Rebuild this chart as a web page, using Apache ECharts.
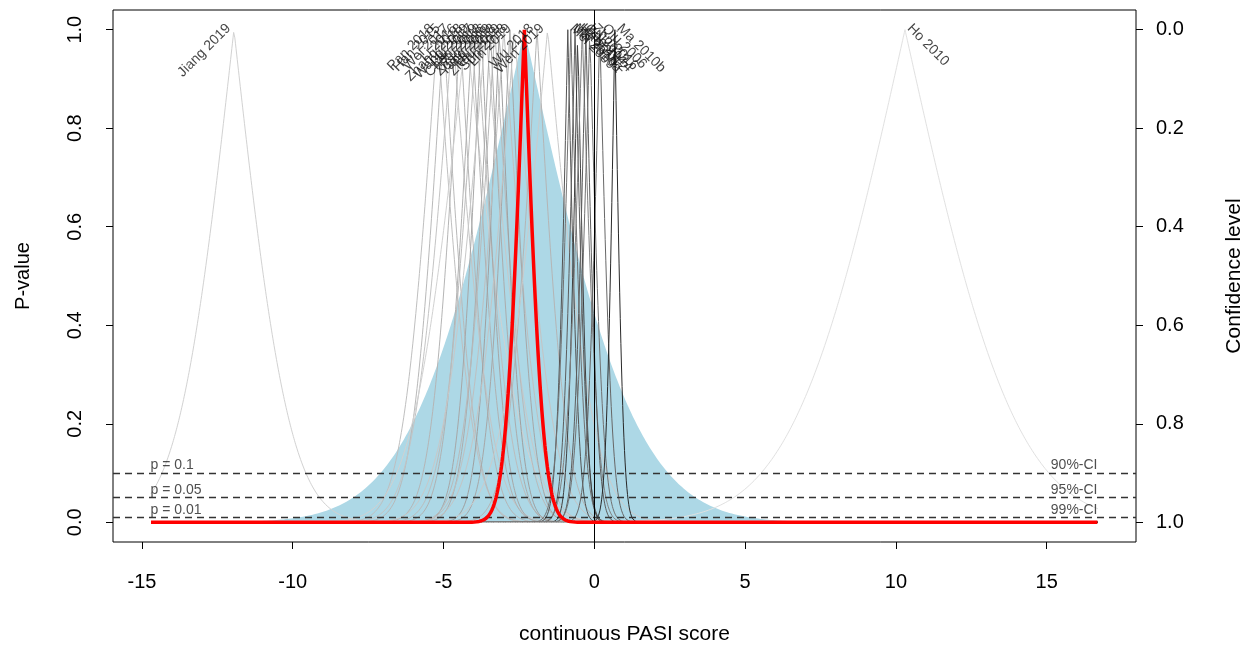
<!DOCTYPE html>
<html><head><meta charset="utf-8">
<script src="https://cdn.jsdelivr.net/npm/echarts@6/dist/echarts.min.js"></script>
<style>html,body{margin:0;padding:0;background:#fff}#c{width:1253px;height:651px}</style>
</head><body><div id="c"></div>
<script>
// ---- data ----
const studyNames = ['Jiang 2019','Pan 2018','Han 2015','Wei 2017','Li 2016','Zhang 2018','Wang 2019','Liu 2017','Chen 2019','Xu 2018','Zhao 2016','Yang 2019','Hu 2018','Zhou 2019','Sun 2018','Lin 2019','Wu 2018','Wen 2019','Mei 2009','Ma 2010a','He 2016','Hao 2012','Gao 2014','Lu 2012','Zhu 2016','Qiu 2006','Ma 2010b','Ho 2010'];
const studyTE = [-11.95,-5.2,-5.0,-4.7,-4.45,-4.25,-4.05,-3.9,-3.75,-3.6,-3.45,-3.3,-3.15,-3.0,-2.8,-2.65,-1.9,-1.55,-0.88,-0.78,-0.64,-0.55,-0.4,-0.28,-0.15,0.18,0.68,10.3];
const studySE = [1.45,0.9,0.8,1.0,0.75,1.4,0.7,0.85,0.6,1.1,0.65,0.8,0.55,0.9,0.6,1.0,0.75,1.2,0.28,0.35,0.3,0.25,0.4,0.3,0.35,0.32,0.22,2.9];
const pooled = [-2.32, 0.48];          // random-effects estimate, standard error
const predictionSD = [2.9];            // width of prediction region
const xDataRange = [-14.7, 16.7];
const xTicks = [-15,-10,-5,0,5,10,15];
const pTicks = [0,0.2,0.4,0.6,0.8,1.0];
const refP = [0.1,0.05,0.01];
const refPLabels = ['p = 0.1','p = 0.05','p = 0.01'];
const refCILabels = ['90%-CI','95%-CI','99%-CI'];

// ---- p-value function ----
function erfc(x){
  const t = 1/(1+0.3275911*x);
  const y = t*(0.254829592+t*(-0.284496736+t*(1.421413741+t*(-1.453152027+t*1.061405429))));
  return y*Math.exp(-x*x);
}
function pval(x, te, se){ return erfc(Math.abs(x-te)/se/Math.SQRT2); }
const step = 0.02;
const xGrid = [];
for (let i=0; ; i++){ const x = xDataRange[0]+i*step; if (x > xDataRange[1]+1e-9) break; xGrid.push(+x.toFixed(4)); }
function curve(te, se){ return xGrid.map(x => [x, pval(x, te, se)]); }
function grayFor(se){ const g = Math.round(240 - 200*Math.min(1, 0.22/se)); return 'rgb('+g+','+g+','+g+')'; }

const FONT = '"Liberation Sans", Arial, sans-serif';
const series = [];
series.push({
  type:'line', data: curve(pooled[0], predictionSD[0]), showSymbol:false, silent:true,
  lineStyle:{width:0}, areaStyle:{color:'#add8e6', opacity:1}, z:1
});
studyNames.forEach((n,i)=>{
  series.push({type:'line', name:n, data: curve(studyTE[i], studySE[i]), showSymbol:false, silent:true,
    lineStyle:{width:1, color: grayFor(studySE[i])}, z:2});
});
series.push({
  type:'line', data: curve(pooled[0], pooled[1]), showSymbol:false, silent:true,
  lineStyle:{width:3.5, color:'#ff0000'}, z:5,
  markLine:{silent:true, symbol:'none', label:{show:false},
    data: refP.map(p=>({yAxis:p, lineStyle:{type:[7,5], color:'#333', width:1.4}}))
      .concat([{xAxis:0, lineStyle:{type:'solid', color:'#000', width:1}}])}
});
const leftIdx = studyNames.map((n,i)=>i).filter(i=>studyTE[i] < -1);
const rightIdx = studyNames.map((n,i)=>i).filter(i=>studyTE[i] >= -1);
const hidden = {color:'rgba(0,0,0,0)'};
function labelSeries(idx, align, rot){
  return {type:'scatter', silent:true, symbolSize:1, itemStyle:hidden, z:6,
    data: idx.map(i=>({name:studyNames[i], value:[studyTE[i], 1]})),
    label:{show:true, formatter:'{b}', position:[0,2], align:align, verticalAlign:'bottom', rotate:rot,
      fontSize:14, fontFamily:FONT, color:'#111'}};
}
series.push(labelSeries(leftIdx,'right',45));
series.push(labelSeries(rightIdx,'left',-45));
series.push({type:'scatter', silent:true, symbolSize:1, itemStyle:hidden, z:6,
  data: refP.map((p,i)=>({name:refPLabels[i], value:[xDataRange[0], p]})),
  label:{show:true, formatter:'{b}', position:[0,0], align:'left', verticalAlign:'bottom', fontSize:14, fontFamily:FONT, color:'#222'}});
series.push({type:'scatter', silent:true, symbolSize:1, itemStyle:hidden, z:6,
  data: refP.map((p,i)=>({name:refCILabels[i], value:[xDataRange[1], p]})),
  label:{show:true, formatter:'{b}', position:[0,0], align:'right', verticalAlign:'bottom', fontSize:14, fontFamily:FONT, color:'#222'}});

const chart = echarts.init(document.getElementById('c'), null, {renderer:'canvas'});
chart.setOption({
  animation:false,
  backgroundColor:'#fff',
  grid:{left:113, right:113, top:10, bottom:109, show:true, borderColor:'#000', borderWidth:1, backgroundColor:'transparent'},
  xAxis:{type:'value', min:-15.96, max:17.96,
    axisLine:{show:false, onZero:false}, splitLine:{show:false},
    axisTick:{show:true, customValues:xTicks, length:7, lineStyle:{color:'#000'}},
    axisLabel:{customValues:xTicks, fontSize:20, fontFamily:FONT, color:'#000', margin:30},
    name:'continuous PASI score', nameLocation:'middle', nameGap:82,
    nameTextStyle:{fontSize:21, fontFamily:FONT, color:'#000'}},
  yAxis:[{type:'value', min:-0.04, max:1.04, position:'left',
    axisLine:{show:false, onZero:false}, splitLine:{show:false},
    axisTick:{show:true, customValues:pTicks, length:7, lineStyle:{color:'#000'}},
    axisLabel:{customValues:pTicks, rotate:90, fontSize:20, fontFamily:FONT, color:'#000', margin:28,
      formatter:v=>v.toFixed(1)},
    name:'P-value', nameLocation:'middle', nameRotate:90, nameGap:80,
    nameTextStyle:{fontSize:20, fontFamily:FONT, color:'#000'}},
   {type:'value', min:-0.04, max:1.04, position:'right', inverse:true,
    axisLine:{show:false, onZero:false}, splitLine:{show:false},
    axisTick:{show:true, customValues:pTicks, length:7, lineStyle:{color:'#000'}},
    axisLabel:{customValues:pTicks, fontSize:20, fontFamily:FONT, color:'#000', margin:20,
      formatter:v=>v.toFixed(1)},
    name:'Confidence level', nameLocation:'middle', nameRotate:90, nameGap:88,
    nameTextStyle:{fontSize:21, fontFamily:FONT, color:'#000'}}],
  series: series
});
</script></body></html>
